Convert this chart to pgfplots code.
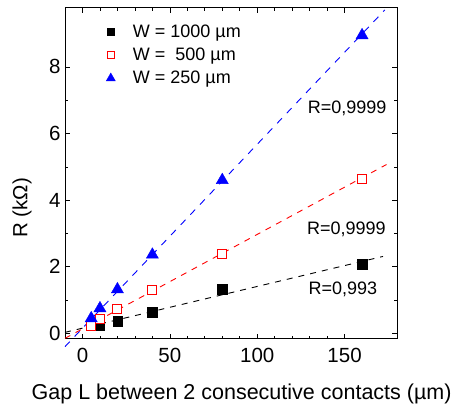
\documentclass[border=0pt]{standalone}
\usepackage{fontspec}
\setmainfont{Liberation Sans}
\usepackage{pgfplots}
\pgfplotsset{compat=1.18}
\pgfplotsset{mylegend/.style={legend image code/.code={\path (0cm,0cm) (1cm,0cm); \draw[mark repeat=2,mark phase=2,##1] plot coordinates {(0cm,0cm) (0.3cm,0cm) (1cm,0cm)};}}}
\begin{document}
\begin{tikzpicture}
\begin{axis}[
 name=ax,
 scale only axis, width=332pt, height=331pt,
 xmin=-10, xmax=180, ymin=-0.17, ymax=9.77,
 xtick={0,50,100,150}, minor x tick num=4,
 ytick={0,2,4,6,8}, minor y tick num=1,
 tick align=inside,
 major tick length=5pt, minor tick length=3pt,
 every tick/.style={black, line width=0.6pt},
 axis line style={line width=1pt},
 tick label style={font=\fontsize{20.5}{24}\selectfont},
 xticklabel style={yshift=-6pt},
 yticklabel style={xshift=-1pt},
 /pgf/number format/assume math mode=true,
 xlabel={Gap L between 2 consecutive contacts (µm)},
 xlabel style={font=\fontsize{21.5}{25}\selectfont, at={(axis description cs:0.532,-0.124)}, anchor=north},
 ylabel={R (kΩ)},
 ylabel style={font=\fontsize{20.5}{24}\selectfont, at={(axis description cs:-0.09,0.396)}, anchor=south},
 clip=false,
 legend style={at={(axis description cs:0.102,0.961)}, anchor=north west, draw=none, fill=none,
   font=\fontsize{18}{21}\selectfont, row sep=5pt},
 legend cell align=left,
 legend image post style={every mark/.append style={scale=0.75}},
]
% fit lines
\addplot[black, line width=0.9pt, dash pattern=on 6pt off 6pt, forget plot] coordinates {(-10,0.03) (172,2.31)};
\addplot[red, line width=0.9pt, dash pattern=on 6pt off 6pt, forget plot] coordinates {(-10,-0.15) (174,5.07)};
\addplot[blue, line width=0.9pt, dash pattern=on 7pt off 7pt, forget plot] coordinates {(-10,-0.40) (173,9.71)};
% data
\addplot[only marks, mylegend, mark=square*, mark size=4.7pt, mark options={fill=black, draw=black}] coordinates {
 (10,0.25) (20,0.37) (40,0.64) (80,1.32) (160,2.08)};
\addlegendentry{W = 1000 µm}
\addplot[only marks, mylegend, mark=square*, mark size=4.5pt, mark options={fill=white, draw=red, line width=1pt}] coordinates {
 (5,0.22) (10,0.42) (20,0.72) (40,1.29) (80,2.38) (160,4.62)};
\addlegendentry{W = \ 500 µm}
\addplot[only marks, mylegend, mark=triangle*, mark size=7pt, mark options={fill=blue, draw=blue}] coordinates {
 (5,0.45) (10,0.75) (20,1.32) (40,2.36) (80,4.60) (160,8.95)};
\addlegendentry{W = 250 µm}
\node[font=\fontsize{18}{21}\selectfont] at (axis cs:151.5,6.77) {R=0,9999};
\node[font=\fontsize{18}{21}\selectfont] at (axis cs:151,3.13) {R=0,9999};
\node[font=\fontsize{18}{21}\selectfont] at (axis cs:149,1.33) {R=0,993};
\end{axis}
\pgfresetboundingbox
\path (ax.south west) ++(-65pt,-66pt) rectangle ([shift={(57pt,8pt)}]ax.north east);
\end{tikzpicture}
\end{document}
